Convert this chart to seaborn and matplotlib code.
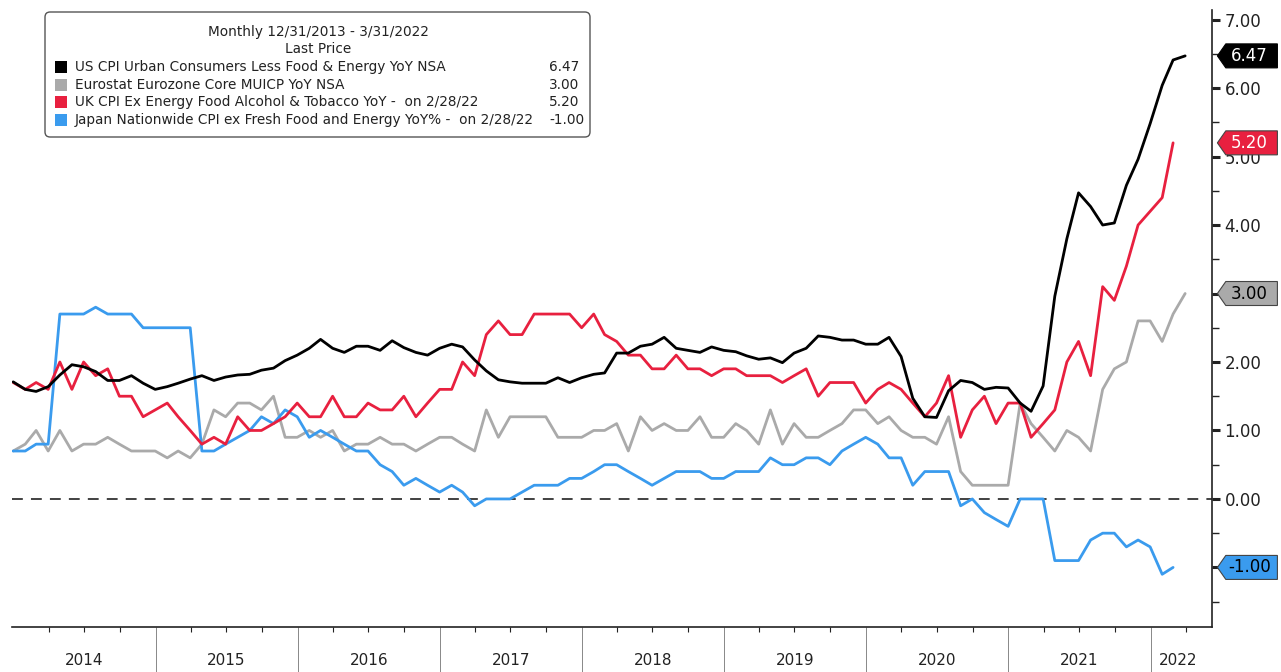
import numpy as np
import pandas as pd
import seaborn as sns
import matplotlib.pyplot as plt
import matplotlib.dates as mdates
from matplotlib.patches import FancyBboxPatch, Polygon, Rectangle
from matplotlib.transforms import blended_transform_factory
from matplotlib.ticker import FixedLocator, FuncFormatter

# monthly YoY %, 12/31/2013 - 3/31/2022
dates = pd.date_range("2013-12-31", "2022-03-31", freq="ME")

us_core = [1.71,
           1.60, 1.57, 1.64, 1.81, 1.96, 1.93, 1.86, 1.73, 1.73, 1.80, 1.69, 1.60,
           1.64, 1.69, 1.75, 1.80, 1.73, 1.78, 1.81, 1.82, 1.88, 1.91, 2.02, 2.10,
           2.20, 2.33, 2.20, 2.14, 2.23, 2.23, 2.17, 2.31, 2.21, 2.14, 2.10, 2.20,
           2.26, 2.22, 2.03, 1.87, 1.74, 1.71, 1.69, 1.69, 1.69, 1.77, 1.70, 1.77,
           1.82, 1.84, 2.13, 2.13, 2.23, 2.26, 2.36, 2.20, 2.17, 2.14, 2.22, 2.17,
           2.15, 2.09, 2.04, 2.06, 1.99, 2.13, 2.20, 2.38, 2.36, 2.32, 2.32, 2.26,
           2.26, 2.36, 2.08, 1.47, 1.20, 1.19, 1.58, 1.73, 1.70, 1.60, 1.63, 1.62,
           1.40, 1.28, 1.65, 2.96, 3.80, 4.47, 4.27, 4.00, 4.03, 4.58, 4.96, 5.48,
           6.04, 6.41, 6.47]

euro_core = [0.7,
             0.8, 1.0, 0.7, 1.0, 0.7, 0.8, 0.8, 0.9, 0.8, 0.7, 0.7, 0.7,
             0.6, 0.7, 0.6, 0.8, 1.3, 1.2, 1.4, 1.4, 1.3, 1.5, 0.9, 0.9,
             1.0, 0.9, 1.0, 0.7, 0.8, 0.8, 0.9, 0.8, 0.8, 0.7, 0.8, 0.9,
             0.9, 0.8, 0.7, 1.3, 0.9, 1.2, 1.2, 1.2, 1.2, 0.9, 0.9, 0.9,
             1.0, 1.0, 1.1, 0.7, 1.2, 1.0, 1.1, 1.0, 1.0, 1.2, 0.9, 0.9,
             1.1, 1.0, 0.8, 1.3, 0.8, 1.1, 0.9, 0.9, 1.0, 1.1, 1.3, 1.3,
             1.1, 1.2, 1.0, 0.9, 0.9, 0.8, 1.2, 0.4, 0.2, 0.2, 0.2, 0.2,
             1.4, 1.1, 0.9, 0.7, 1.0, 0.9, 0.7, 1.6, 1.9, 2.0, 2.6, 2.6,
             2.3, 2.7, 3.0]

# UK and Japan end on 2/28/22
uk_core = [1.7,
           1.6, 1.7, 1.6, 2.0, 1.6, 2.0, 1.8, 1.9, 1.5, 1.5, 1.2, 1.3,
           1.4, 1.2, 1.0, 0.8, 0.9, 0.8, 1.2, 1.0, 1.0, 1.1, 1.2, 1.4,
           1.2, 1.2, 1.5, 1.2, 1.2, 1.4, 1.3, 1.3, 1.5, 1.2, 1.4, 1.6,
           1.6, 2.0, 1.8, 2.4, 2.6, 2.4, 2.4, 2.7, 2.7, 2.7, 2.7, 2.5,
           2.7, 2.4, 2.3, 2.1, 2.1, 1.9, 1.9, 2.1, 1.9, 1.9, 1.8, 1.9,
           1.9, 1.8, 1.8, 1.8, 1.7, 1.8, 1.9, 1.5, 1.7, 1.7, 1.7, 1.4,
           1.6, 1.7, 1.6, 1.4, 1.2, 1.4, 1.8, 0.9, 1.3, 1.5, 1.1, 1.4,
           1.4, 0.9, 1.1, 1.3, 2.0, 2.3, 1.8, 3.1, 2.9, 3.4, 4.0, 4.2,
           4.4, 5.2]

japan_core = [0.7,
              0.7, 0.8, 0.8, 2.7, 2.7, 2.7, 2.8, 2.7, 2.7, 2.7, 2.5, 2.5,
              2.5, 2.5, 2.5, 0.7, 0.7, 0.8, 0.9, 1.0, 1.2, 1.1, 1.3, 1.2,
              0.9, 1.0, 0.9, 0.8, 0.7, 0.7, 0.5, 0.4, 0.2, 0.3, 0.2, 0.1,
              0.2, 0.1, -0.1, 0.0, 0.0, 0.0, 0.1, 0.2, 0.2, 0.2, 0.3, 0.3,
              0.4, 0.5, 0.5, 0.4, 0.3, 0.2, 0.3, 0.4, 0.4, 0.4, 0.3, 0.3,
              0.4, 0.4, 0.4, 0.6, 0.5, 0.5, 0.6, 0.6, 0.5, 0.7, 0.8, 0.9,
              0.8, 0.6, 0.6, 0.2, 0.4, 0.4, 0.4, -0.1, 0.0, -0.2, -0.3, -0.4,
              0.0, 0.0, 0.0, -0.9, -0.9, -0.9, -0.6, -0.5, -0.5, -0.7, -0.6, -0.7,
              -1.1, -1.0]

series = ["US", "Euro", "UK", "Japan"]
labels = ["US CPI Urban Consumers Less Food & Energy YoY NSA",
          "Eurostat Eurozone Core MUICP YoY NSA",
          "UK CPI Ex Energy Food Alcohol & Tobacco YoY -  on 2/28/22",
          "Japan Nationwide CPI ex Fresh Food and Energy YoY% -  on 2/28/22"]
colors = {"US": "#000000", "Euro": "#aaaaaa", "UK": "#e8203f", "Japan": "#3a9bee"}
tag_text = {"US": "white", "Euro": "black", "UK": "white", "Japan": "black"}
years = list(range(2014, 2023))

df = pd.DataFrame({"date": dates, "US": us_core, "Euro": euro_core,
                   "UK": uk_core + [np.nan], "Japan": japan_core + [np.nan]})
long = df.melt("date", var_name="series", value_name="yoy").dropna()
last = {"US": us_core[-1], "Euro": euro_core[-1], "UK": uk_core[-1], "Japan": japan_core[-1]}

sns.set_style("white")
plt.rcParams["font.family"] = ["DejaVu Sans"]

W, H = 1281, 672
fig = plt.figure(figsize=(W / 100, H / 100), dpi=100)
ax = fig.add_axes([12 / W, 45 / H, 1200 / W, 617 / H])

sns.lineplot(data=long, x="date", y="yoy", hue="series",
             hue_order=["Euro", "Japan", "UK", "US"], palette=colors,
             linewidth=2.0, legend=False, ax=ax)
ax.axhline(0, color="#333333", lw=1.3, dashes=(6, 4.5), zorder=1)

ax.set_xlim(pd.Timestamp("2013-12-28"), pd.Timestamp("2022-06-08"))
ax.set_ylim(-1.87, 7.14)
ax.set_xlabel("")
ax.set_ylabel("")

# spines: only bottom and right
for side in ["top", "left"]:
    ax.spines[side].set_visible(False)
for side in ["bottom", "right"]:
    ax.spines[side].set_color("#222222")
    ax.spines[side].set_linewidth(1.2)

# x axis: long separators at year boundaries, small quarter ticks
bounds = [pd.Timestamp(f"{y}-01-01") for y in years[1:]]
quarters = [q for q in pd.date_range("2014-04-01", "2022-04-01", freq="QS") if q.month != 1]
ax.xaxis.set_major_locator(FixedLocator(mdates.date2num(bounds)))
ax.xaxis.set_minor_locator(FixedLocator(mdates.date2num(quarters)))
ax.tick_params(axis="x", which="both", bottom=True, top=False, labelbottom=False,
               direction="out")
ax.tick_params(axis="x", which="major", length=33, width=0.7, color="#888888")
ax.tick_params(axis="x", which="minor", length=3.5, width=0.8, color="#222222")

xt = blended_transform_factory(ax.transData, ax.transAxes)
edges = [pd.Timestamp("2013-12-31")] + bounds + [pd.Timestamp("2022-05-25")]
for i, y in enumerate(years):
    mid = edges[i] + (edges[i + 1] - edges[i]) / 2
    ax.text(mid, -0.055, str(y), transform=xt, ha="center", va="center",
            fontsize=11, color="#222222")

# y axis on the right; labels hidden where a value tag sits on top
covered = [round(v) for v in last.values() if abs(v - round(v)) < 0.05]
ax.yaxis.tick_right()
ax.set_yticks(range(-1, 8))
ax.yaxis.set_minor_locator(FixedLocator(np.arange(-1.5, 7.0, 1.0)))
ax.yaxis.set_major_formatter(FuncFormatter(lambda v, p: "" if round(v) in covered else f"{v:.2f}"))
ax.tick_params(axis="y", which="both", right=True, left=False, direction="out")
ax.tick_params(axis="y", which="major", length=6, width=2.2, pad=3,
               labelsize=12, colors="#222222")
ax.tick_params(axis="y", which="minor", length=5, width=1, color="#222222")

# last value tags on the right axis
yt = blended_transform_factory(ax.transAxes, ax.transData)
hh = 12 / 68.5
for s in series:
    v = last[s]
    pts = [(1.0045, v), (1.0115, v + hh), (1.0545, v + hh), (1.0545, v - hh), (1.0115, v - hh)]
    ax.add_patch(Polygon(pts, closed=True, transform=yt, fc=colors[s],
                         ec="#444444" if s != "US" else "black", lw=0.8,
                         clip_on=False, zorder=6))
    ax.text(1.031, v, f"{v:.2f}", transform=yt, ha="center", va="center",
            fontsize=12, color=tag_text[s], clip_on=False, zorder=7)

# legend box
box = FancyBboxPatch((45 / W, 1 - 137 / H), 545 / W, 125 / H,
                     boxstyle="round,pad=0,rounding_size=0.004",
                     mutation_aspect=W / H, transform=fig.transFigure,
                     fc="white", ec="#555555", lw=1.0, zorder=10)
fig.patches.append(box)
fig.text(318 / W, 1 - 32 / H, "Monthly 12/31/2013 - 3/31/2022", ha="center",
         va="center", fontsize=9.8, color="#222222", zorder=11)
fig.text(318 / W, 1 - 49 / H, "Last Price", ha="center", va="center",
         fontsize=9.8, color="#222222", zorder=11)
for i, s in enumerate(series):
    yy = 67 + 17.6 * i
    fig.patches.append(Rectangle((55 / W, 1 - (yy + 6) / H), 12 / W, 12 / H,
                                 transform=fig.transFigure, fc=colors[s],
                                 ec="none", zorder=11))
    fig.text(75 / W, 1 - yy / H, labels[i], ha="left", va="center",
             fontsize=9.8, color="#222222", zorder=11)
    fig.text(549 / W, 1 - yy / H, f"{last[s]:.2f}", ha="left", va="center",
             fontsize=9.8, color="#222222", zorder=11)

fig.savefig("out.png", dpi=100)
